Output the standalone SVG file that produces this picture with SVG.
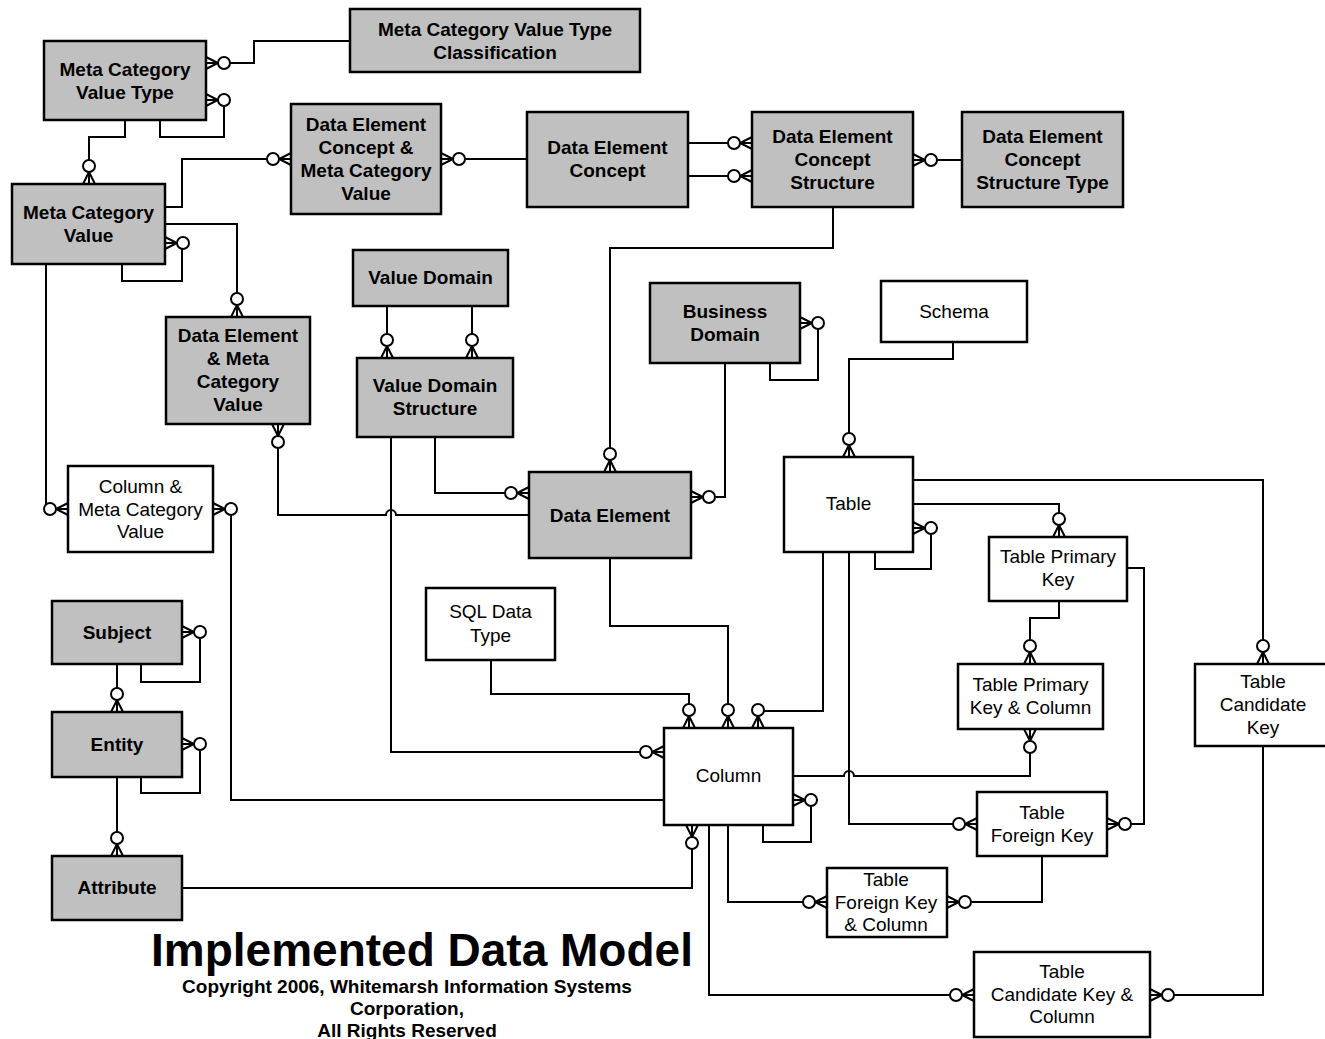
<svg xmlns="http://www.w3.org/2000/svg" xmlns:xlink="http://www.w3.org/1999/xlink" width="1325" height="1039" viewBox="0 0 1325 1039">
  <style>
    .node rect { stroke: #000; stroke-width: 2.5; }
    .g rect { fill: #c0c0c0; }
    .w rect { fill: #ffffff; }
    text { font-family: "Liberation Sans", Arial, sans-serif; font-size: 19px; text-anchor: middle; fill: #000; }
    .g text { font-weight: bold; }
    .conn path { fill: none; stroke: #000; stroke-width: 2; }
    .title { font-size: 46px; font-weight: bold; }
    .copy { font-size: 19px; font-weight: bold; }
  </style>
  <defs>
    <!-- zero-or-many end: crow's foot at the box edge (origin) and a ring beyond it, pointing along +x -->
    <g id="cf">
      <path d="M0,-6 L12,0 L0,6 M0,0 L12,0" fill="none" stroke="#000" stroke-width="2"/>
      <circle cx="18" cy="0" r="6" fill="#fff" stroke="#000" stroke-width="2"/>
    </g>
  </defs>
  <rect width="1325" height="1039" fill="#fff"/>

  <!-- relationships -->
  <g id="connectors" class="conn">
    <path d="M350,41 H254 V63 H224"/>
    <path d="M160,120 V137 H224 V100"/>
    <path d="M125,120 V137 H89 V165"/>
    <path d="M165,207 H182 V159 H273"/>
    <path d="M122,264 V281 H182 V243"/>
    <path d="M165,224 H237 V298"/>
    <path d="M46,264 V509 H50"/>
    <path d="M527,159 H459"/>
    <path d="M688,143 H734"/>
    <path d="M688,176 H734"/>
    <path d="M962,160 H931"/>
    <path d="M833,207 V248 H610 V454"/>
    <path d="M387,306 V340"/>
    <path d="M472,306 V340"/>
    <path d="M435,437 V493 H511"/>
    <path d="M278,443 V515 H386 A5,5 0 0 1 396,515 H529"/>
    <path d="M391,437 V752 H646"/>
    <path d="M231,509 V800 H664"/>
    <path d="M725,363 V497 H709"/>
    <path d="M770,363 V380 H818 V323"/>
    <path d="M610,558 V626 H728 V710"/>
    <path d="M953,342 V359 H849 V439"/>
    <path d="M913,480 H1263 V646"/>
    <path d="M913,504 H1059 V519"/>
    <path d="M875,552 V569 H931 V528"/>
    <path d="M823,552 V711 H758"/>
    <path d="M849,552 V824 H959"/>
    <path d="M491,660 V694 H689 V710"/>
    <path d="M793,776 H844 A5,5 0 0 1 854,776 H1030 V747"/>
    <path d="M763,825 V842 H811 V800"/>
    <path d="M182,888 H692 V843"/>
    <path d="M728,825 V902 H809"/>
    <path d="M1042,856 V902 H965"/>
    <path d="M709,825 V995 H956"/>
    <path d="M1263,746 V995 H1168"/>
    <path d="M1127,568 H1144 V824 H1125"/>
    <path d="M1059,601 V618 H1030 V646"/>
    <path d="M141,664 V682 H200 V632"/>
    <path d="M117,664 V694"/>
    <path d="M141,777 V793 H200 V744"/>
    <path d="M117,777 V838"/>

    <!-- many-ends: right edges -->
    <use xlink:href="#cf" href="#cf" transform="translate(206,63)"/>
    <use xlink:href="#cf" href="#cf" transform="translate(206,100)"/>
    <use xlink:href="#cf" href="#cf" transform="translate(165,243)"/>
    <use xlink:href="#cf" href="#cf" transform="translate(441,159)"/>
    <use xlink:href="#cf" href="#cf" transform="translate(913,160)"/>
    <use xlink:href="#cf" href="#cf" transform="translate(213,509)"/>
    <use xlink:href="#cf" href="#cf" transform="translate(691,497)"/>
    <use xlink:href="#cf" href="#cf" transform="translate(800,323)"/>
    <use xlink:href="#cf" href="#cf" transform="translate(913,528)"/>
    <use xlink:href="#cf" href="#cf" transform="translate(793,800)"/>
    <use xlink:href="#cf" href="#cf" transform="translate(947,902)"/>
    <use xlink:href="#cf" href="#cf" transform="translate(1150,995)"/>
    <use xlink:href="#cf" href="#cf" transform="translate(1107,824)"/>
    <use xlink:href="#cf" href="#cf" transform="translate(182,632)"/>
    <use xlink:href="#cf" href="#cf" transform="translate(182,744)"/>
    <!-- many-ends: left edges -->
    <use xlink:href="#cf" href="#cf" transform="translate(291,159) rotate(180)"/>
    <use xlink:href="#cf" href="#cf" transform="translate(68,509) rotate(180)"/>
    <use xlink:href="#cf" href="#cf" transform="translate(752,143) rotate(180)"/>
    <use xlink:href="#cf" href="#cf" transform="translate(752,176) rotate(180)"/>
    <use xlink:href="#cf" href="#cf" transform="translate(529,493) rotate(180)"/>
    <use xlink:href="#cf" href="#cf" transform="translate(664,752) rotate(180)"/>
    <use xlink:href="#cf" href="#cf" transform="translate(977,824) rotate(180)"/>
    <use xlink:href="#cf" href="#cf" transform="translate(827,902) rotate(180)"/>
    <use xlink:href="#cf" href="#cf" transform="translate(974,995) rotate(180)"/>
    <!-- many-ends: top edges -->
    <use xlink:href="#cf" href="#cf" transform="translate(89,184) rotate(-90)"/>
    <use xlink:href="#cf" href="#cf" transform="translate(237,317) rotate(-90)"/>
    <use xlink:href="#cf" href="#cf" transform="translate(610,472) rotate(-90)"/>
    <use xlink:href="#cf" href="#cf" transform="translate(387,358) rotate(-90)"/>
    <use xlink:href="#cf" href="#cf" transform="translate(472,358) rotate(-90)"/>
    <use xlink:href="#cf" href="#cf" transform="translate(849,457) rotate(-90)"/>
    <use xlink:href="#cf" href="#cf" transform="translate(1263,664) rotate(-90)"/>
    <use xlink:href="#cf" href="#cf" transform="translate(1059,537) rotate(-90)"/>
    <use xlink:href="#cf" href="#cf" transform="translate(1030,664) rotate(-90)"/>
    <use xlink:href="#cf" href="#cf" transform="translate(689,728) rotate(-90)"/>
    <use xlink:href="#cf" href="#cf" transform="translate(728,728) rotate(-90)"/>
    <use xlink:href="#cf" href="#cf" transform="translate(758,728) rotate(-90)"/>
    <use xlink:href="#cf" href="#cf" transform="translate(117,712) rotate(-90)"/>
    <use xlink:href="#cf" href="#cf" transform="translate(117,856) rotate(-90)"/>
    <!-- many-ends: bottom edges -->
    <use xlink:href="#cf" href="#cf" transform="translate(278,424) rotate(90)"/>
    <use xlink:href="#cf" href="#cf" transform="translate(1030,729) rotate(90)"/>
    <use xlink:href="#cf" href="#cf" transform="translate(692,825) rotate(90)"/>
  </g>

  <!-- entities -->
  <g id="meta-category-value-type-classification" class="node g">
    <rect x="350" y="9" width="290" height="63"/>
    <text x="495" y="36">Meta Category Value Type</text>
    <text x="495" y="59">Classification</text>
  </g>
  <g id="meta-category-value-type" class="node g">
    <rect x="44" y="41" width="162" height="79"/>
    <text x="125" y="76">Meta Category</text>
    <text x="125" y="99">Value Type</text>
  </g>
  <g id="meta-category-value" class="node g">
    <rect x="12" y="184" width="153" height="80"/>
    <text x="88.5" y="219">Meta Category</text>
    <text x="88.5" y="242">Value</text>
  </g>
  <g id="data-element-concept-meta-category-value" class="node g">
    <rect x="291" y="104" width="150" height="110"/>
    <text x="366" y="131">Data Element</text>
    <text x="366" y="154">Concept &amp;</text>
    <text x="366" y="177">Meta Category</text>
    <text x="366" y="200">Value</text>
  </g>
  <g id="data-element-concept" class="node g">
    <rect x="527" y="112" width="161" height="95"/>
    <text x="607.5" y="154">Data Element</text>
    <text x="607.5" y="177">Concept</text>
  </g>
  <g id="data-element-concept-structure" class="node g">
    <rect x="752" y="112" width="161" height="95"/>
    <text x="832.5" y="143">Data Element</text>
    <text x="832.5" y="166">Concept</text>
    <text x="832.5" y="189">Structure</text>
  </g>
  <g id="data-element-concept-structure-type" class="node g">
    <rect x="962" y="112" width="161" height="95"/>
    <text x="1042.5" y="143">Data Element</text>
    <text x="1042.5" y="166">Concept</text>
    <text x="1042.5" y="189">Structure Type</text>
  </g>
  <g id="value-domain" class="node g">
    <rect x="353" y="250" width="155" height="56"/>
    <text x="430.5" y="284">Value Domain</text>
  </g>
  <g id="value-domain-structure" class="node g">
    <rect x="357" y="358" width="156" height="79"/>
    <text x="435" y="392">Value Domain</text>
    <text x="435" y="415">Structure</text>
  </g>
  <g id="data-element-meta-category-value" class="node g">
    <rect x="166" y="317" width="144" height="107"/>
    <text x="238" y="342">Data Element</text>
    <text x="238" y="365">&amp; Meta</text>
    <text x="238" y="388">Category</text>
    <text x="238" y="411">Value</text>
  </g>
  <g id="business-domain" class="node g">
    <rect x="650" y="283" width="150" height="80"/>
    <text x="725" y="318">Business</text>
    <text x="725" y="341">Domain</text>
  </g>
  <g id="data-element" class="node g">
    <rect x="529" y="472" width="162" height="86"/>
    <text x="610" y="522">Data Element</text>
  </g>
  <g id="column-meta-category-value" class="node w">
    <rect x="68" y="466" width="145" height="86"/>
    <text x="140.5" y="493">Column &amp;</text>
    <text x="140.5" y="516">Meta Category</text>
    <text x="140.5" y="538">Value</text>
  </g>
  <g id="schema" class="node w">
    <rect x="881" y="281" width="146" height="61"/>
    <text x="954" y="318">Schema</text>
  </g>
  <g id="table" class="node w">
    <rect x="784" y="457" width="129" height="95"/>
    <text x="848.5" y="510">Table</text>
  </g>
  <g id="table-primary-key" class="node w">
    <rect x="989" y="537" width="138" height="64"/>
    <text x="1058" y="563">Table Primary</text>
    <text x="1058" y="586">Key</text>
  </g>
  <g id="table-primary-key-column" class="node w">
    <rect x="958" y="664" width="145" height="65"/>
    <text x="1030.5" y="691">Table Primary</text>
    <text x="1030.5" y="714">Key &amp; Column</text>
  </g>
  <g id="table-candidate-key" class="node w">
    <rect x="1195" y="664" width="136" height="82"/>
    <text x="1263" y="688">Table</text>
    <text x="1263" y="711">Candidate</text>
    <text x="1263" y="734">Key</text>
  </g>
  <g id="sql-data-type" class="node w">
    <rect x="426" y="588" width="129" height="72"/>
    <text x="490.5" y="618">SQL Data</text>
    <text x="490.5" y="642">Type</text>
  </g>
  <g id="column" class="node w">
    <rect x="664" y="728" width="129" height="97"/>
    <text x="728.5" y="782">Column</text>
  </g>
  <g id="table-foreign-key" class="node w">
    <rect x="977" y="792" width="130" height="64"/>
    <text x="1042" y="819">Table</text>
    <text x="1042" y="842">Foreign Key</text>
  </g>
  <g id="table-foreign-key-column" class="node w">
    <rect x="827" y="868" width="120" height="69"/>
    <text x="886" y="886">Table</text>
    <text x="886" y="909">Foreign Key</text>
    <text x="886" y="931">&amp; Column</text>
  </g>
  <g id="table-candidate-key-column" class="node w">
    <rect x="974" y="952" width="176" height="85"/>
    <text x="1062" y="978">Table</text>
    <text x="1062" y="1001">Candidate Key &amp;</text>
    <text x="1062" y="1023">Column</text>
  </g>
  <g id="subject" class="node g">
    <rect x="52" y="601" width="130" height="63"/>
    <text x="117" y="639">Subject</text>
  </g>
  <g id="entity" class="node g">
    <rect x="52" y="712" width="130" height="65"/>
    <text x="117" y="751">Entity</text>
  </g>
  <g id="attribute" class="node g">
    <rect x="52" y="856" width="130" height="64"/>
    <text x="117" y="894">Attribute</text>
  </g>

  <!-- title block -->
  <g id="title">
    <text class="title" x="422" y="966">Implemented Data Model</text>
    <text class="copy" x="407" y="993">Copyright 2006, Whitemarsh Information Systems</text>
    <text class="copy" x="407" y="1015">Corporation,</text>
    <text class="copy" x="407" y="1037">All Rights Reserved</text>
  </g>
</svg>
